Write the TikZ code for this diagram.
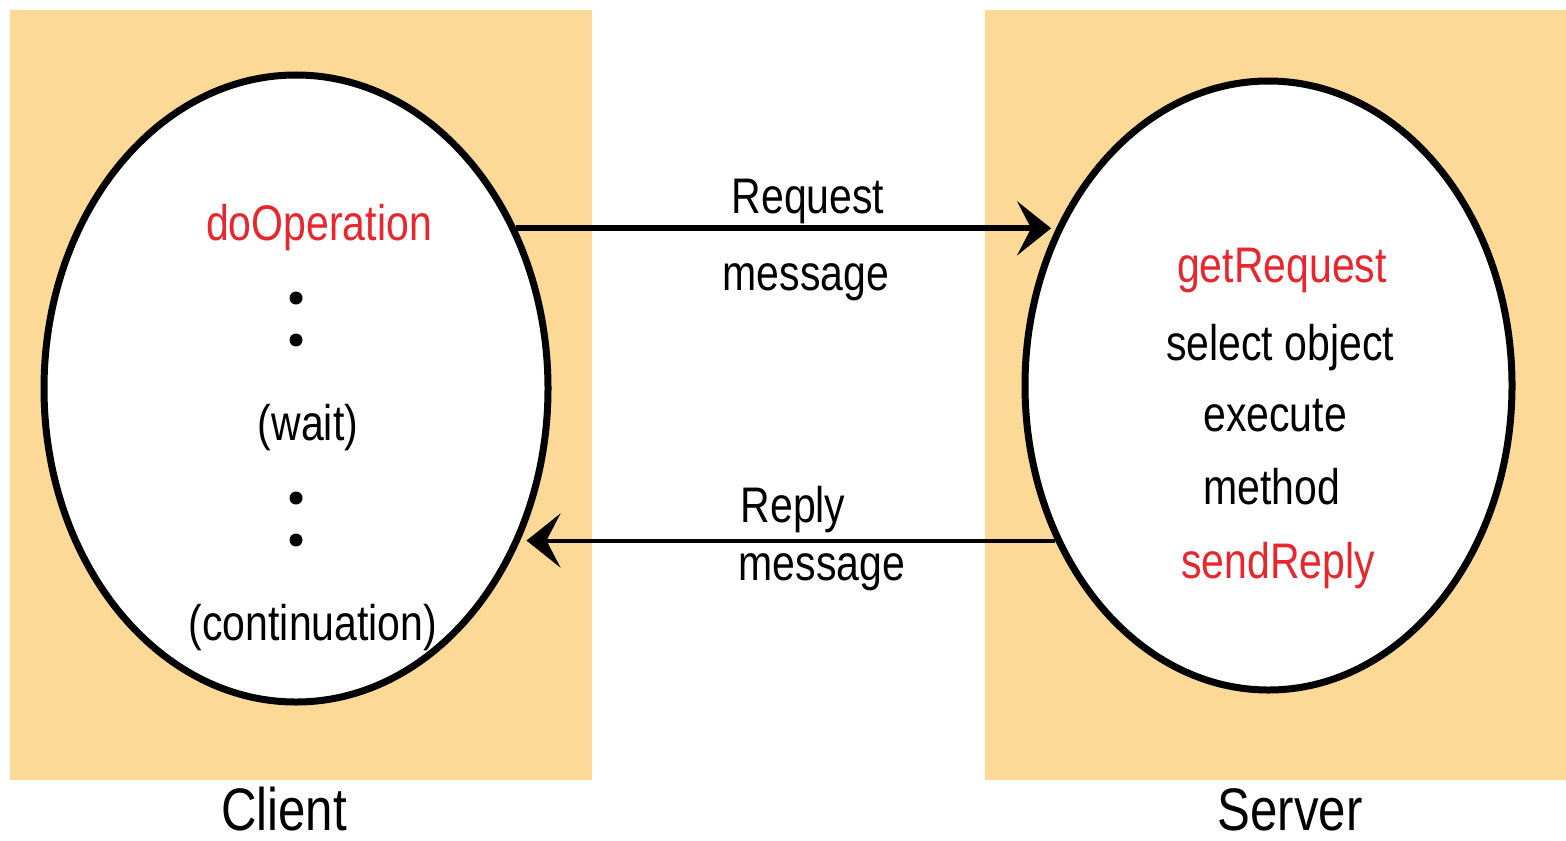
\documentclass[tikz,border=0pt]{standalone}
\usepackage{fontspec}
\setmainfont[FakeStretch=0.82]{Liberation Sans}
\usetikzlibrary{arrows.meta,positioning,shapes.geometric}
\definecolor{sand}{HTML}{FCD996}
\definecolor{opred}{HTML}{E8262E}
\tikzset{panel/.style={fill=sand,draw=none,inner sep=0pt,minimum width=291pt,minimum height=385pt},proc/.style={ellipse,draw=black,fill=white,line width=3.5pt,inner sep=0pt},txt/.style={font=\fontsize{25}{30}\selectfont,inner sep=0pt,anchor=base},call/.style={txt,text=opred},side/.style={txt,font=\fontsize{30}{36}\selectfont},pause/.style={circle,fill=black,inner sep=0pt,minimum size=6.5pt},arr/.style={-{Stealth[length=17pt,width=27pt,inset=7pt]},line width=3pt,shorten >=3pt}}
\begin{document}
\begin{tikzpicture}[x=0.5pt,y=-0.5pt]
\useasboundingbox (0,0) rectangle (1566,840);
\node[panel] (cbox) at (301,395) {};
\node[panel,minimum width=290.5pt] (sbox) at (1275.5,395) {};
\node[proc,minimum width=252pt,minimum height=313.5pt] (client) at (296,388.5) {};
\node[proc,minimum width=243.5pt,minimum height=304.5pt] (server) at (1268.5,385.5) {};
% client side
\node[call] (doop) at (319,240) {doOperation};
\node[pause] (d1) at (296,298) {};
\node[pause] (d2) at (296,340) {};
\node[txt] (wait) at (308,440) {(wait)};
\node[pause] (d3) at (296,498) {};
\node[pause] (d4) at (296,540) {};
\node[txt] (cont) at (313,640) {(continuation)};
% server side
\node[call] (getreq) at (1282,282) {getRequest};
\node[txt] (select) at (1280,360) {select object};
\node[txt] (exec) at (1275,431) {execute};
\node[txt] (meth) at (1272,504) {method};
\node[call] (sendrep) at (1278,578) {sendReply};
% messages
\node[txt] (reqa) at (808,213) {Request};
\node[txt] (reqb) at (806,290) {message};
\node[txt] (repa) at (793,522) {Reply};
\node[txt] (repb) at (822,580) {message};
\node[side] (clab) at (284,830) {Client};
\node[side] (slab) at (1290,830) {Server};
\draw[arr] (client.36) -- (server.143 |- client.36);
\draw[arr,line width=2pt] (server.216) -- (client.-34 |- server.216);
\end{tikzpicture}
\end{document}
